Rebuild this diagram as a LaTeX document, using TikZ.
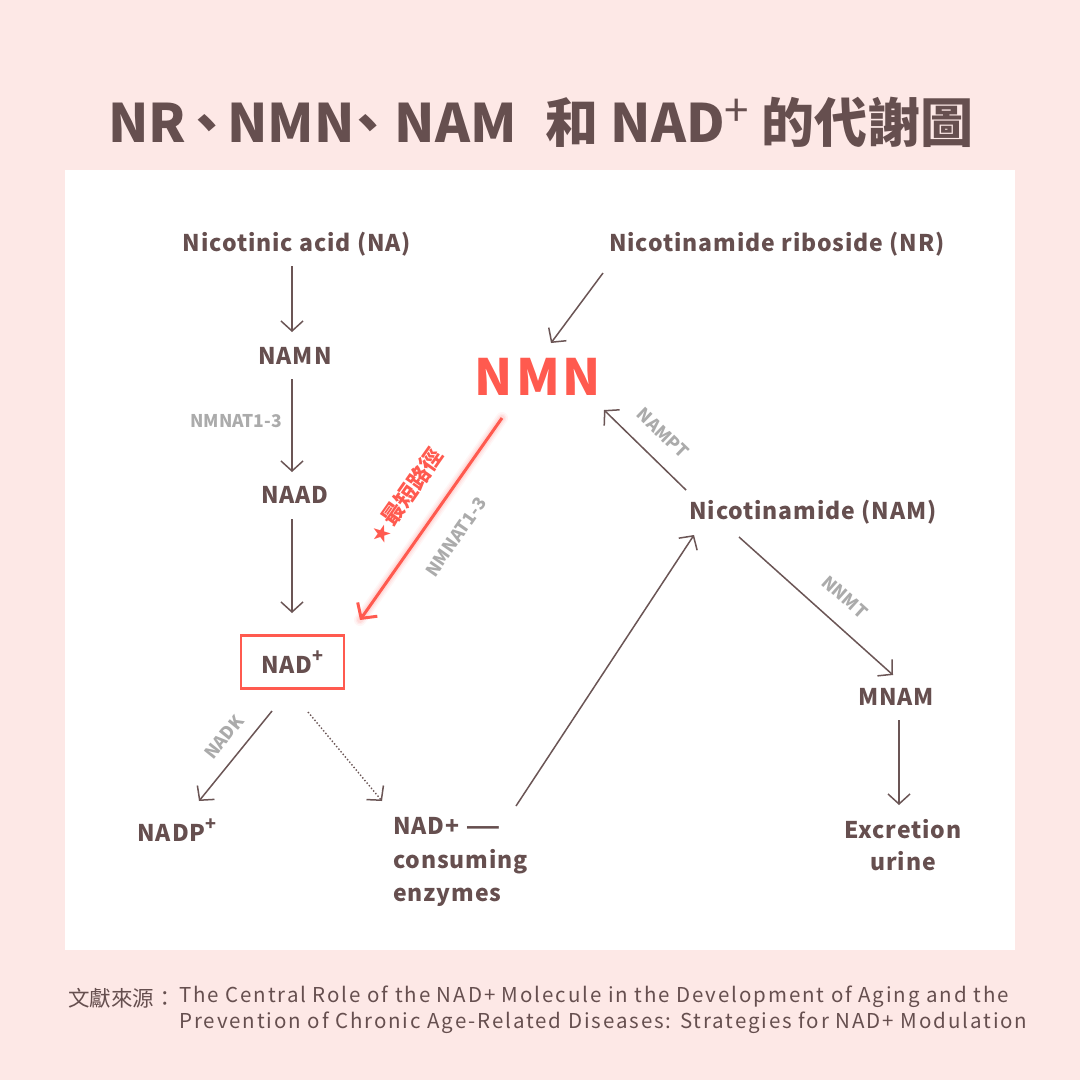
\documentclass[tikz,border=0pt]{standalone}
\usepackage{fontspec}
\setmainfont{Noto Sans CJK TC}
\newfontfamily\footfont[LetterSpace=9.3]{Noto Sans CJK TC}
\newfontfamily\lblfont[LetterSpace=4]{Noto Sans CJK TC}
\usetikzlibrary{arrows.meta,calc}
\definecolor{bgpink}{HTML}{FDE8E6}
\definecolor{txt}{HTML}{664F4F}
\definecolor{arr}{HTML}{6B5555}
\definecolor{redc}{HTML}{FF5A4F}
\definecolor{grayl}{HTML}{ABABAB}
\tikzset{
  lbl/.style={font=\lblfont\fontsize{23}{30}\selectfont\bfseries, text=txt, inner sep=0pt},
  enzlbl/.style={font=\fontsize{17.5}{20}\selectfont\bfseries, text=grayl, inner sep=0pt},
  conn/.style={draw=arr, line width=1.5pt, -{Straight Barb[length=10pt,width=22pt,line width=1.5pt]}},
  dotconn/.style={draw=arr, line width=1.4pt, dotted, -{Straight Barb[length=10pt,width=22pt,line width=1.5pt]}},
}
\begin{document}
\begin{tikzpicture}[x=1pt,y=-1pt]
\useasboundingbox (0,0) rectangle (1080,1080);
\fill[bgpink] (0,0) rectangle (1080,1080);
\fill[white] (65,170) rectangle (1015,950);
% title
\node[font=\fontsize{53}{60}\selectfont\bfseries, text=txt, inner sep=0pt, anchor=west] (title) at (108,122)
  {NR\kern-6pt、\kern-6pt NMN\kern-13pt、\kern0pt NAM\kern29pt 和 NAD\raisebox{0.3em}{\fontsize{44}{44}\selectfont\mdseries +}\kern12pt 的代謝圖};
% nodes
\node[lbl] (na) at (297,244) {Nicotinic acid (NA)};
\node[lbl] (nr) at (777,244) {Nicotinamide riboside (NR)};
\node[lbl] (namn) at (295,356) {NAMN};
\node[lbl] (naad) at (295,495) {NAAD};
\node[lbl, draw=redc, line width=2.5pt, minimum width=103pt, minimum height=53pt] (nad) at (292.5,662)
  {NAD\raisebox{0.45em}{\fontsize{18}{18}\selectfont +}};
\node[lbl] (nadp) at (177,830) {NADP\raisebox{0.45em}{\fontsize{18}{18}\selectfont +}};
\node[lbl, align=left, anchor=west, font=\lblfont\fontsize{23}{33.5}\selectfont\bfseries] (enz) at (393,862)
  {NAD+ \scalebox{1.7}[1]{—}\\consuming\\enzymes};
\node[font=\fontsize{50}{50}\selectfont\bfseries, text=redc, inner sep=0pt] (nmn) at (538,377)
  {N\kern3pt M\kern3pt N};
\node[lbl] (nam) at (813,512) {Nicotinamide (NAM)};
\node[lbl] (mnam) at (896,697) {MNAM};
\node[lbl, align=center, font=\lblfont\fontsize{23}{32}\selectfont\bfseries] (exc) at (903,845) {Excretion\\urine};
% enzyme labels
\node[enzlbl] (l1) at (236,421) {NMNAT1-3};
\node[enzlbl, rotate=-44] (l2) at (663,433) {NAMPT};
\node[enzlbl, rotate=55] (l3) at (456,537) {NMNAT1-3};
\node[enzlbl, rotate=-42] (l4) at (845,597) {NNMT};
\node[enzlbl, rotate=51] (l5) at (224,737) {NADK};
\node[font=\fontsize{22}{22}\selectfont\bfseries, text=redc, inner sep=0pt, rotate=55] (short) at (406,496)
  {{\fontsize{19}{19}\selectfont ★}\kern3pt 最短路徑};
% connectors
\draw[conn] ([shift={(-5,22)}]na.center) -- ([shift={(-3,-24)}]namn.center);
\draw[conn] ([shift={(-3,23)}]namn.center) -- ([shift={(-3,-23)}]naad.center);
\draw[conn] ([shift={(-3,24)}]naad.center) -- ([shift={(-0.5,-49)}]nad.center);
\draw[conn] ([shift={(-174,29)}]nr.center) -- ([shift={(13,-34)}]nmn.center);
% red shortest path with glow
\foreach \w/\o in {12/0.05,9/0.07,6/0.1}{
  \draw[redc, opacity=\o, line width=\w pt, line cap=round] ([shift={(-36,41)}]nmn.center) -- ([shift={(67.5,-42)}]nad.center);
}
\draw[draw=redc, line width=3pt, -{Straight Barb[length=11pt,width=24pt,line width=3pt]}]
  ([shift={(-36,41)}]nmn.center) -- ([shift={(67.5,-42)}]nad.center);
\draw[conn] ([shift={(-127,-22)}]nam.center) -- ([shift={(66,33)}]nmn.center);
\draw[conn] ([shift={(123,-56)}]enz.west) -- ([shift={(-119,23)}]nam.center);
\draw[conn] ([shift={(-74,25)}]nam.center) -- ([shift={(-3,-22)}]mnam.center);
\draw[conn] ([shift={(3,23)}]mnam.center) -- ([shift={(-4,-40)}]exc.center);
\draw[conn] ([shift={(-20.5,49)}]nad.center) -- ([shift={(22,-29)}]nadp.center);
\draw[dotconn] ([shift={(15.5,50)}]nad.center) -- ([shift={(-11,-61)}]enz.west);
% footer
\node[font=\fontsize{21.5}{26}\selectfont, text=txt, inner sep=0pt, anchor=west] (src) at (68,998) {文獻來源：};
\node[font=\fontsize{20.5}{26}\selectfont\footfont, text=txt, inner sep=0pt, anchor=north west, align=left] (ref) at (179,986)
  {The Central Role of the NAD+ Molecule in the Development of Aging and the\\Prevention of Chronic Age-Related Diseases: Strategies for NAD+ Modulation};
\end{tikzpicture}
\end{document}
